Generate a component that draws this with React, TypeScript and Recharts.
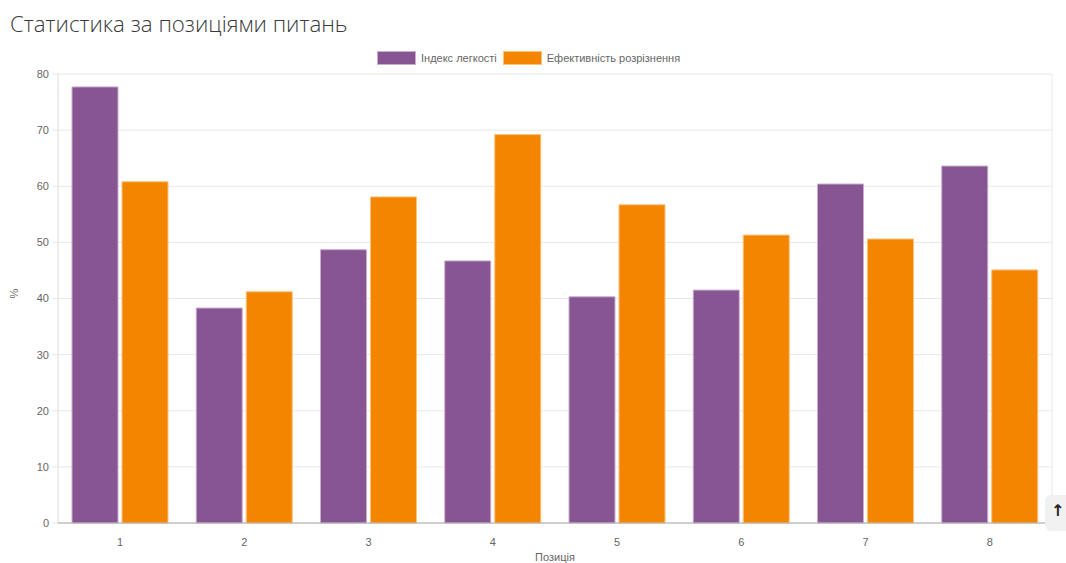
import React from 'react';
import { BarChart, Bar, XAxis, YAxis, CartesianGrid } from 'recharts';

// ── Data ──────────────────────────────────────────────────────────────────────
const positions = ['1', '2', '3', '4', '5', '6', '7', '8'];
const easinessIndex = [77.7, 38.3, 48.7, 46.7, 40.3, 41.5, 60.4, 63.6];
const resolutionEfficiency = [60.8, 41.2, 58.1, 69.2, 56.7, 51.3, 50.6, 45.1];
const yTicks = [0, 10, 20, 30, 40, 50, 60, 70, 80];
const boundaryTicks = [0, 1, 2, 3, 4, 5, 6, 7, 8];

const SERIES = [
  { key: 'easiness', name: 'Індекс легкості', fill: '#865592', stroke: '#c9aed0' },
  { key: 'efficiency', name: 'Ефективність розрізнення', fill: '#f38500', stroke: '#fbc27c' },
];

const data = positions.map((p, i) => ({
  pos: p,
  easiness: easinessIndex[i],
  efficiency: resolutionEfficiency[i],
}));

const GRID = '#e8e8e8';
const FONT = 'Liberation Sans, Arial, sans-serif';
const TICK = { fill: '#666', fontSize: 11, fontFamily: FONT };

const App: React.FC = () => {
  return (
    <div style={{ position: 'absolute', left: 0, top: 0, width: 1066, height: 563, background: '#fff', overflow: 'hidden' }}>
      <div
        style={{
          position: 'absolute',
          left: 10,
          top: 8,
          fontSize: 22.3,
          fontWeight: 300,
          color: '#3a3a3a',
          fontFamily: '"Open Sans", "Noto Sans", sans-serif',
          whiteSpace: 'nowrap',
        }}
      >
        Статистика за позиціями питань
      </div>

      {/* legend */}
      <div
        style={{
          position: 'absolute',
          top: 51,
          left: 377,
          display: 'flex',
          alignItems: 'center',
          fontSize: 11,
          color: '#666',
          fontFamily: FONT,
          whiteSpace: 'nowrap',
        }}
      >
        {SERIES.map((s, i) => (
          <div key={s.key} style={{ display: 'flex', alignItems: 'center', marginLeft: i ? 6 : 0 }}>
            <span
              style={{
                display: 'inline-block',
                width: 37,
                height: 12,
                background: s.fill,
                border: `1px solid ${s.stroke}`,
                marginRight: 5,
              }}
            />
            {s.name}
          </div>
        ))}
      </div>

      <div style={{ position: 'absolute', left: 0, top: 0 }}>
        <BarChart
          width={1066}
          height={563}
          data={data}
          margin={{ top: 74, right: 14, bottom: 10, left: 10 }}
          barGap={4}
          barCategoryGap={14}
        >
          <CartesianGrid xAxisId="grid" stroke={GRID} strokeWidth={1} />
          <XAxis
            xAxisId="grid"
            type="number"
            domain={[0, 8]}
            ticks={boundaryTicks}
            height={0}
            tick={false}
            tickSize={10}
            tickLine={{ stroke: GRID }}
            axisLine={false}
          />
          <XAxis
            dataKey="pos"
            height={30}
            tickLine={false}
            axisLine={{ stroke: '#aaa' }}
            tick={TICK}
            tickMargin={9}
            label={{ value: 'Позиція', position: 'insideBottom', offset: -8, fill: '#666', fontSize: 11, fontFamily: FONT }}
          />
          <YAxis
            width={48}
            domain={[0, 80]}
            ticks={yTicks}
            tick={TICK}
            tickSize={6}
            tickMargin={3}
            tickLine={{ stroke: GRID }}
            axisLine={{ stroke: GRID }}
            label={{ value: '%', angle: -90, position: 'insideLeft', offset: 4, fill: '#666', fontSize: 11, fontFamily: FONT }}
          />
          {SERIES.map((s) => (
            <Bar
              key={s.key}
              dataKey={s.key}
              name={s.name}
              fill={s.fill}
              stroke={s.stroke}
              strokeWidth={1}
              isAnimationActive={false}
            />
          ))}
        </BarChart>
      </div>

      {/* scroll-to-top button, partly visible at the right edge */}
      <div
        style={{
          position: 'absolute',
          left: 1045,
          top: 495,
          width: 40,
          height: 36,
          borderRadius: 6,
          background: '#f1f1f1',
          fontSize: 16,
          fontWeight: 700,
          color: '#222',
          fontFamily: 'DejaVu Sans, sans-serif',
          paddingLeft: 6,
          paddingTop: 6,
          boxSizing: 'border-box',
        }}
      >
        ↑
      </div>
    </div>
  );
};

export default App;
